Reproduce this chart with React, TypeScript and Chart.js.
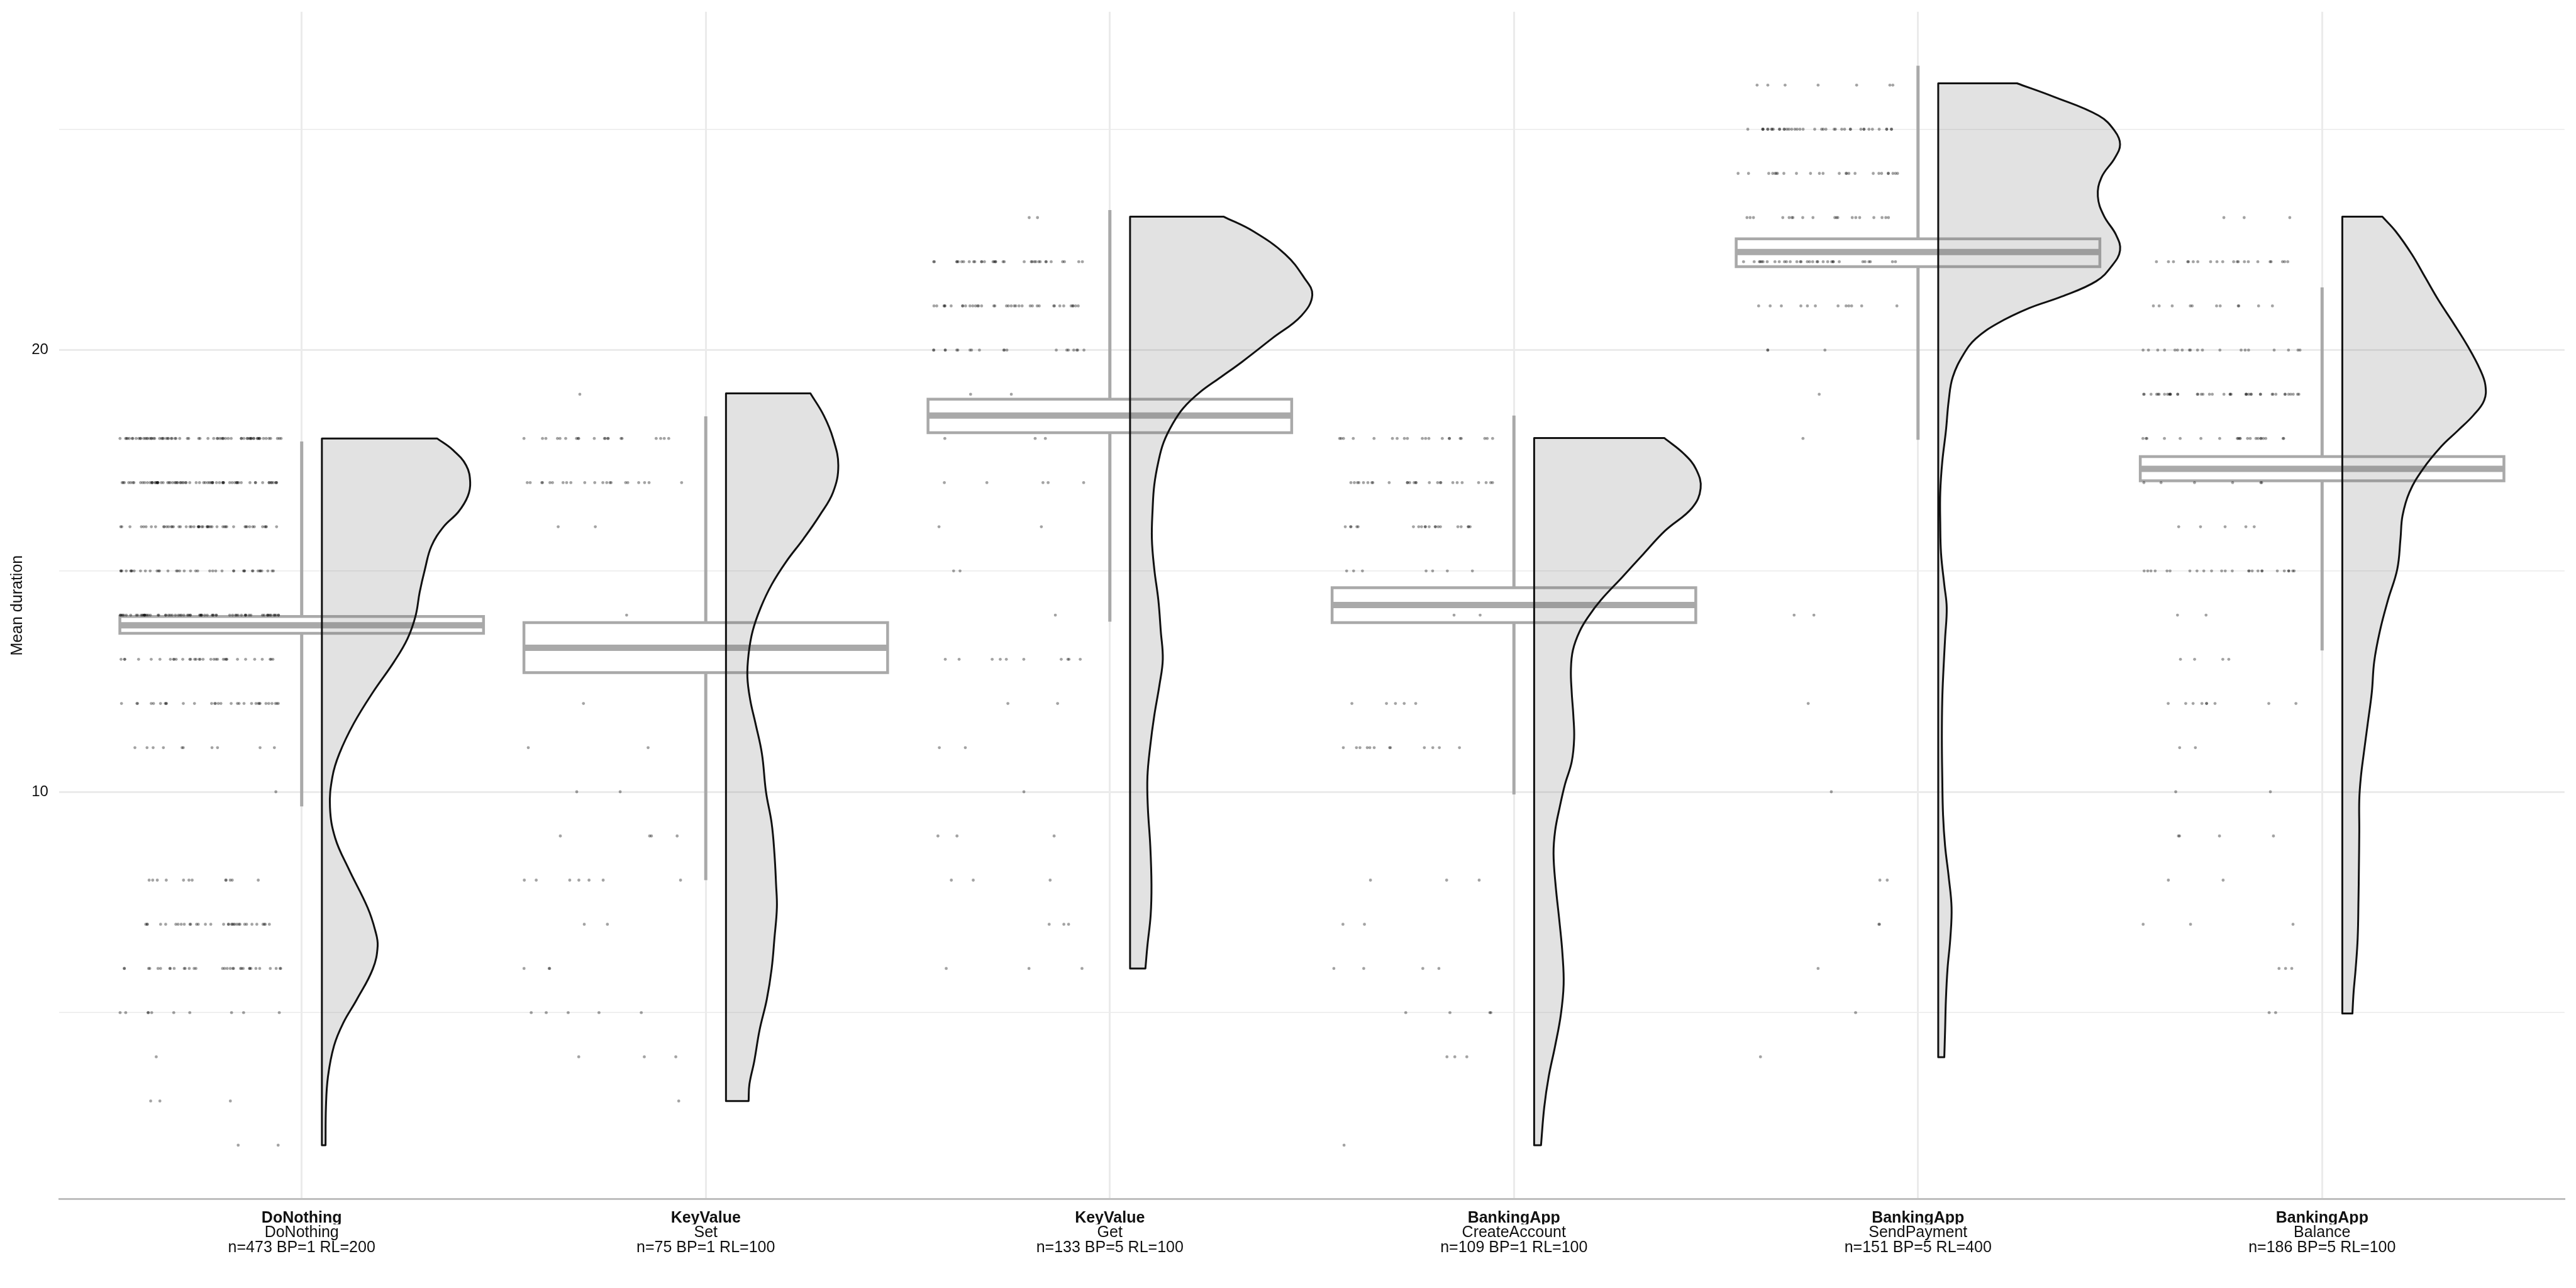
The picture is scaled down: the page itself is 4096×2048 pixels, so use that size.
import React, { useEffect, useRef } from "react";
import { Chart, registerables } from "chart.js";

Chart.register(...registerables);

// ---------- data ----------
const groupNames = ["DoNothing", "KeyValue", "KeyValue", "BankingApp", "BankingApp", "BankingApp"];
const operationNames = ["DoNothing", "Set", "Get", "CreateAccount", "SendPayment", "Balance"];
const runInfo = [
  "n=473 BP=1 RL=200",
  "n=75 BP=1 RL=100",
  "n=133 BP=5 RL=100",
  "n=109 BP=1 RL=100",
  "n=151 BP=5 RL=400",
  "n=186 BP=5 RL=100",
];
const yTickValues = [5, 10, 15, 20, 25];
const yLabelledTicks = [10, 20];
const yAxisMin = 0.778;
const yAxisMax = 27.66;

// box plot statistics
const boxQ1 = [13.59, 12.7, 18.13, 13.83, 21.89, 17.04];
const boxMedian = [13.77, 13.26, 18.52, 14.23, 22.22, 17.31];
const boxQ3 = [13.97, 13.83, 18.89, 14.62, 22.52, 17.59];
const whiskerLow = [9.67, 8.0, 13.85, 9.94, 17.97, 13.2];
const whiskerHigh = [17.93, 18.5, 23.17, 18.52, 26.44, 21.42];

// jittered points: integer levels and how many runs sit on each
const doNothingLevels = [18, 17, 16, 15, 14, 13, 12, 11, 10, 8, 7, 6, 5, 4, 3, 2];
const doNothingCounts = [70, 75, 50, 40, 70, 33, 31, 10, 1, 12, 33, 32, 10, 1, 3, 2];
const setLevels = [19, 18, 17, 16, 14, 12, 11, 10, 9, 8, 7, 6, 5, 4, 3];
const setCounts = [1, 20, 21, 2, 1, 1, 2, 2, 4, 7, 2, 3, 5, 3, 1];
const getLevels = [23, 22, 21, 20, 19, 18, 17, 16, 15, 14, 13, 12, 11, 10, 9, 8, 7, 6];
const getCounts = [2, 33, 37, 19, 2, 3, 5, 2, 2, 1, 10, 2, 2, 1, 3, 3, 3, 3];
const createLevels = [18, 17, 16, 15, 14, 12, 11, 8, 7, 6, 5, 4, 2];
const createCounts = [20, 26, 20, 7, 2, 5, 12, 3, 2, 4, 4, 3, 1];
const sendLevels = [26, 25, 24, 23, 22, 21, 20, 19, 18, 14, 12, 10, 8, 7, 6, 5, 4];
const sendCounts = [7, 40, 25, 19, 32, 12, 3, 1, 1, 2, 1, 1, 2, 2, 1, 1, 1];
const balanceLevels = [23, 22, 21, 20, 19, 18, 17, 16, 15, 14, 13, 12, 11, 10, 9, 8, 7, 6, 5];
const balanceCounts = [3, 21, 11, 19, 42, 21, 6, 5, 25, 2, 4, 9, 2, 2, 4, 2, 3, 3, 2];

// half-violin outlines: y values (top to bottom) and half widths (category units)
const doNothingViolinY = [18.0, 17.74, 17.39, 17.01, 16.69, 16.34, 16.0, 15.56, 15.04, 14.52, 13.99, 13.47, 12.95, 12.25, 11.55, 10.86, 10.34, 9.65, 8.95, 8.26, 7.38, 6.86, 6.51, 5.99, 5.29, 4.77, 4.25, 3.55, 2.86, 2.0];
const doNothingViolinW = [0.285, 0.324, 0.357, 0.367, 0.361, 0.338, 0.301, 0.271, 0.255, 0.242, 0.232, 0.212, 0.179, 0.126, 0.079, 0.043, 0.026, 0.02, 0.033, 0.066, 0.113, 0.132, 0.138, 0.126, 0.086, 0.053, 0.03, 0.015, 0.01, 0.009];
const setViolinY = [19.02, 18.52, 18.0, 17.39, 16.78, 16.26, 15.73, 15.21, 14.69, 14.17, 13.64, 13.12, 12.6, 12.08, 11.55, 10.86, 10.0, 9.29, 8.59, 7.9, 7.38, 6.69, 5.99, 5.3, 4.6, 3.9, 3.38, 3.0];
const setViolinW = [0.209, 0.242, 0.265, 0.278, 0.265, 0.232, 0.192, 0.149, 0.113, 0.086, 0.066, 0.056, 0.053, 0.06, 0.073, 0.089, 0.099, 0.113, 0.12, 0.124, 0.126, 0.12, 0.113, 0.101, 0.083, 0.07, 0.058, 0.056];
const getViolinY = [23.02, 22.69, 22.17, 21.65, 21.25, 20.78, 20.26, 19.74, 19.39, 19.04, 18.69, 18.34, 17.91, 17.47, 16.95, 16.43, 15.73, 15.04, 14.34, 13.64, 13.0, 12.43, 11.73, 11.04, 10.34, 9.65, 8.78, 7.9, 7.21, 6.52, 6.0];
const getViolinW = [0.232, 0.305, 0.384, 0.43, 0.451, 0.424, 0.351, 0.278, 0.225, 0.172, 0.132, 0.106, 0.083, 0.07, 0.06, 0.056, 0.054, 0.06, 0.07, 0.076, 0.081, 0.073, 0.06, 0.05, 0.043, 0.044, 0.05, 0.053, 0.051, 0.043, 0.038];
const createViolinY = [18.01, 17.65, 17.3, 16.87, 16.43, 15.91, 15.39, 14.86, 14.34, 13.99, 13.64, 13.21, 12.77, 12.25, 11.73, 11.21, 10.68, 10.16, 9.64, 9.12, 8.6, 7.9, 7.03, 6.34, 5.64, 4.95, 4.25, 3.55, 2.86, 2.0];
const createViolinW = [0.322, 0.371, 0.401, 0.412, 0.391, 0.324, 0.271, 0.218, 0.165, 0.136, 0.113, 0.096, 0.091, 0.093, 0.097, 0.099, 0.093, 0.076, 0.063, 0.052, 0.048, 0.053, 0.063, 0.07, 0.073, 0.066, 0.052, 0.036, 0.025, 0.017];
const sendViolinY = [26.04, 25.74, 25.31, 24.96, 24.66, 24.35, 23.91, 23.48, 23.04, 22.61, 22.26, 21.91, 21.56, 21.21, 20.95, 20.6, 20.26, 19.91, 19.39, 18.86, 18.17, 17.47, 16.78, 16.08, 15.39, 14.69, 14.17, 13.47, 12.77, 12.08, 11.21, 10.34, 9.47, 8.77, 8.07, 7.38, 6.69, 5.99, 5.29, 4.6, 3.99];
const sendViolinW = [0.195, 0.285, 0.397, 0.437, 0.45, 0.437, 0.404, 0.395, 0.41, 0.44, 0.45, 0.43, 0.391, 0.305, 0.225, 0.146, 0.093, 0.063, 0.036, 0.026, 0.019, 0.01, 0.005, 0.005, 0.007, 0.015, 0.021, 0.017, 0.013, 0.01, 0.009, 0.01, 0.012, 0.017, 0.026, 0.033, 0.03, 0.023, 0.019, 0.017, 0.015];
const balanceViolinY = [23.02, 22.69, 22.17, 21.65, 21.13, 20.61, 20.08, 19.56, 19.21, 18.86, 18.52, 18.17, 17.82, 17.3, 16.78, 16.25, 15.73, 15.04, 14.34, 13.64, 12.95, 12.25, 11.55, 10.86, 10.34, 9.82, 9.12, 8.25, 7.55, 6.68, 5.99, 5.47, 4.98];
const balanceViolinW = [0.099, 0.132, 0.172, 0.205, 0.238, 0.275, 0.311, 0.341, 0.354, 0.351, 0.324, 0.285, 0.245, 0.199, 0.166, 0.149, 0.144, 0.136, 0.113, 0.093, 0.079, 0.073, 0.063, 0.053, 0.046, 0.042, 0.042, 0.041, 0.04, 0.038, 0.033, 0.028, 0.025];

const pointLevels = [doNothingLevels, setLevels, getLevels, createLevels, sendLevels, balanceLevels];
const pointCounts = [doNothingCounts, setCounts, getCounts, createCounts, sendCounts, balanceCounts];
const violinYs = [doNothingViolinY, setViolinY, getViolinY, createViolinY, sendViolinY, balanceViolinY];
const violinWs = [doNothingViolinW, setViolinW, getViolinW, createViolinW, sendViolinW, balanceViolinW];

// ---------- layout / style constants ----------
const BOX_HALF = 0.45;
const VIOLIN_GAP = 0.05;
const JITTER_LEFT = 0.05;
const JITTER_WIDTH = 0.4;
const FONT = "'Liberation Sans', Arial, Helvetica, sans-serif";
const TEXT = "#111111";
const BOX_COLOR = "#A9A9A9";

// deterministic horizontal jitter (position only, not a value)
function jitter(g: number, k: number): number {
  const s = Math.sin(g * 374.761 + k * 12.9898 + 0.5) * 43758.5453;
  return s - Math.floor(s);
}

function buildDatasets() {
  const datasets: any[] = [];
  const points: { x: number; y: number }[] = [];
  for (let g = 0; g < groupNames.length; g++) {
    const c = g + 1;
    datasets.push({
      type: "scatter",
      data: [{ x: c, y: whiskerLow[g] }, { x: c, y: whiskerHigh[g] }],
      showLine: true,
      borderColor: BOX_COLOR,
      borderWidth: 5,
      borderCapStyle: "butt",
      pointRadius: 0,
      order: 4,
    });
    datasets.push({
      type: "scatter",
      data: [
        { x: c - BOX_HALF, y: boxQ1[g] },
        { x: c + BOX_HALF, y: boxQ1[g] },
        { x: c + BOX_HALF, y: boxQ3[g] },
        { x: c - BOX_HALF, y: boxQ3[g] },
        { x: c - BOX_HALF, y: boxQ1[g] },
      ],
      showLine: true,
      fill: "shape",
      backgroundColor: "#ffffff",
      borderColor: BOX_COLOR,
      borderWidth: 4.5,
      borderJoinStyle: "miter",
      borderCapStyle: "square",
      pointRadius: 0,
      order: 3,
    });
    datasets.push({
      type: "scatter",
      data: [{ x: c - BOX_HALF, y: boxMedian[g] }, { x: c + BOX_HALF, y: boxMedian[g] }],
      showLine: true,
      borderColor: BOX_COLOR,
      borderWidth: 10,
      borderCapStyle: "butt",
      pointRadius: 0,
      order: 2,
    });
    // half violin: corners are doubled so the spline keeps straight edges and sharp corners
    const vy = violinYs[g];
    const vw = violinWs[g];
    const left = c + VIOLIN_GAP;
    const last = vy.length - 1;
    const outline: { x: number; y: number }[] = [];
    outline.push({ x: left, y: vy[0] });
    outline.push({ x: left + vw[0], y: vy[0] });
    for (let i = 0; i <= last; i++) outline.push({ x: left + vw[i], y: vy[i] });
    outline.push({ x: left + vw[last], y: vy[last] });
    outline.push({ x: left, y: vy[last] });
    outline.push({ x: left, y: vy[last] });
    outline.push({ x: left, y: vy[0] });
    datasets.push({
      type: "scatter",
      data: outline,
      showLine: true,
      tension: 0.4,
      fill: "shape",
      backgroundColor: "rgba(108,108,108,0.2)",
      borderColor: "#111111",
      borderWidth: 3,
      borderJoinStyle: "round",
      borderCapStyle: "round",
      pointRadius: 0,
      order: 1,
    });
    let k = 0;
    const lv = pointLevels[g];
    const ct = pointCounts[g];
    for (let j = 0; j < lv.length; j++) {
      for (let n = 0; n < ct[j]; n++) {
        points.push({ x: c - JITTER_LEFT - jitter(g, k) * JITTER_WIDTH, y: lv[j] });
        k++;
      }
    }
  }
  datasets.push({
    type: "scatter",
    data: points,
    pointRadius: 2.4,
    pointBackgroundColor: "rgba(0,0,0,0.36)",
    pointBorderWidth: 0,
    order: 0,
  });
  return datasets;
}

const categoryTicks = (scale: any) => {
  scale.ticks = groupNames.map((_, i) => ({ value: i + 1 }));
};

export default function App() {
  const ref = useRef<HTMLCanvasElement | null>(null);
  useEffect(() => {
    if (!ref.current) return;
    const chart = new Chart(ref.current, {
      type: "scatter",
      data: { datasets: buildDatasets() },
      options: {
        animation: false,
        responsive: false,
        devicePixelRatio: 1,
        events: [],
        layout: { padding: { top: 18.7, right: 18.2, bottom: 41.3, left: 0 } },
        plugins: { legend: { display: false }, tooltip: { enabled: false } },
        scales: {
          x: {
            type: "linear",
            position: "bottom",
            min: 0.4,
            max: 6.6,
            weight: 0,
            afterBuildTicks: categoryTicks,
            afterFit: (s: any) => {
              s.height = 40;
              s.paddingLeft = 0;
              s.paddingRight = 0;
            },
            ticks: {
              callback: (v: any) => groupNames[Number(v) - 1] ?? "",
              font: { family: FONT, size: 25, weight: "bold", lineHeight: "23.25px" },
              color: TEXT,
              padding: 18.7,
              maxRotation: 0,
              minRotation: 0,
              autoSkip: false,
            },
            grid: { color: "#EBEBEB", lineWidth: 3, drawTicks: false },
            border: { display: true, color: "#BEBEBE", width: 3 },
          },
          x2: {
            type: "linear",
            position: "bottom",
            min: 0.4,
            max: 6.6,
            weight: 1,
            afterBuildTicks: categoryTicks,
            afterFit: (s: any) => {
              s.height = 60;
              s.paddingLeft = 0;
              s.paddingRight = 0;
            },
            ticks: {
              callback: (v: any) => [operationNames[Number(v) - 1] ?? "", runInfo[Number(v) - 1] ?? ""],
              font: { family: FONT, size: 25, lineHeight: "23.25px" },
              color: TEXT,
              padding: 2.2,
              maxRotation: 0,
              minRotation: 0,
              autoSkip: false,
            },
            grid: { display: false, drawTicks: false },
            border: { display: false },
          },
          y: {
            type: "linear",
            min: yAxisMin,
            max: yAxisMax,
            afterBuildTicks: (s: any) => {
              s.ticks = yTickValues.map((v) => ({ value: v }));
            },
            afterFit: (s: any) => {
              s.width = 94.2;
              s.paddingTop = 0;
              s.paddingBottom = 0;
            },
            ticks: {
              callback: (v: any) => (yLabelledTicks.includes(Number(v)) ? String(v) : ""),
              font: { family: FONT, size: 24 },
              color: TEXT,
              padding: 17.3,
            },
            grid: {
              color: "#EBEBEB",
              lineWidth: (ctx: any) => (ctx.tick && yLabelledTicks.includes(ctx.tick.value) ? 3 : 1.5),
              drawTicks: false,
            },
            border: { display: false },
            title: {
              display: true,
              text: "Mean duration",
              font: { family: FONT, size: 25 },
              color: TEXT,
              padding: { top: 13.5, bottom: 0 },
            },
          },
        },
      } as any,
    });
    return () => chart.destroy();
  }, []);
  return (
    <div style={{ position: "fixed", left: 0, top: 0, width: "4096px", height: "2048px", background: "#ffffff" }}>
      <canvas ref={ref} width={4096} height={2048} style={{ display: "block", width: "4096px", height: "2048px" }} />
    </div>
  );
}
